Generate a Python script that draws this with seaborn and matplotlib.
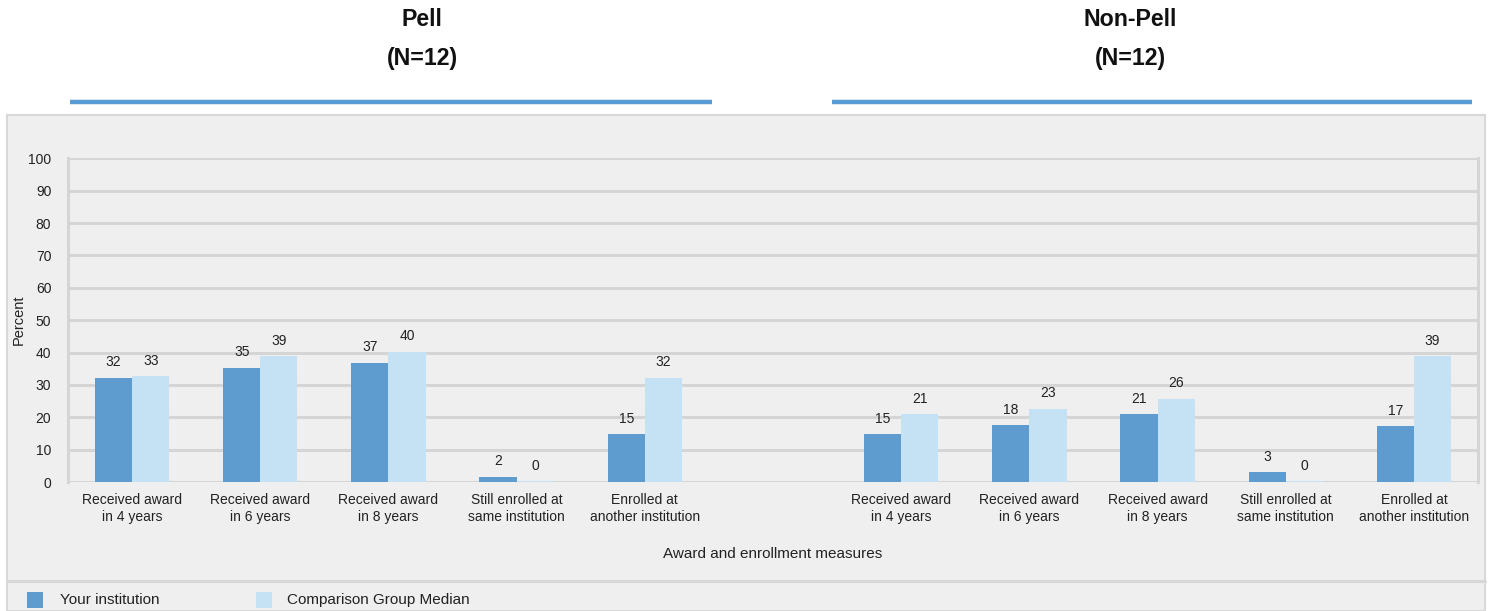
import numpy as np
import pandas as pd
import matplotlib
matplotlib.use("Agg")
import matplotlib.pyplot as plt
from matplotlib.patches import Rectangle
from matplotlib.lines import Line2D
import seaborn as sns

# ---- data ----
measures = ["Received award\nin 4 years", "Received award\nin 6 years", "Received award\nin 8 years",
            "Still enrolled at\nsame institution", "Enrolled at\nanother institution"]
groups = ["Pell", "Non-Pell"]
group_n = ["(N=12)", "(N=12)"]
series = ["Your institution", "Comparison Group Median"]
pell_yours = [32.2, 35.3, 36.9, 1.6, 14.8]
pell_comp = [32.7, 38.8, 40.3, 0.2, 32.2]
nonpell_yours = [14.7, 17.6, 21.0, 3.0, 17.3]
nonpell_comp = [21.0, 22.7, 25.7, 0.2, 38.8]
y_ticks = list(range(0, 101, 10))
x_title = "Award and enrollment measures"
y_title = "Percent"

DARK = "#5E9BCF"
LIGHT = "#C5E2F5"
BG = "#EFEFEF"
GRID = "#D5D5D5"
HEAD = "#5B9BD5"

rows = []
for g, yv, cv in [("Pell", pell_yours, pell_comp), ("Non-Pell", nonpell_yours, nonpell_comp)]:
    for m, a, b in zip(measures, yv, cv):
        key = f"{g}|{m}"
        rows.append({"cat": key, "series": series[0], "value": a})
        rows.append({"cat": key, "series": series[1], "value": b})
df = pd.DataFrame(rows)
order = [f"Pell|{m}" for m in measures] + ["gap"] + [f"Non-Pell|{m}" for m in measures]
tick_labels = measures + [""] + measures

sns.set_theme(style="white")
plt.rcParams["font.family"] = ["Liberation Sans", "DejaVu Sans"]

W, H = 1492, 611
fig = plt.figure(figsize=(W / 100, H / 100), dpi=100)
fig.patch.set_facecolor("white")

def fx(px):
    return px / W

def fy(py):
    return 1 - py / H

# outer grey panel
fig.patches.append(Rectangle((fx(7), fy(611)), fx(1485) - fx(7), fy(115) - fy(611),
                             transform=fig.transFigure, facecolor=BG, edgecolor="#D8D8D8",
                             linewidth=1.5, zorder=-5))
fig.lines.append(Line2D([fx(7), fx(1485)], [fy(581), fy(581)], transform=fig.transFigure,
                        color="#D8D8D8", linewidth=2.2, zorder=-4))

# header lines and titles
for (x0, x1), cx, name, n in zip([(70, 712), (832, 1472)], [422, 1130], groups, group_n):
    fig.lines.append(Line2D([fx(x0), fx(x1)], [fy(102), fy(102)], transform=fig.transFigure,
                            color=HEAD, linewidth=3.2, solid_capstyle="butt"))
    fig.text(fx(cx), fy(20), name, ha="center", va="center", fontsize=16.7, fontweight="bold",
             color="#111111")
    fig.text(fx(cx), fy(58), n, ha="center", va="center", fontsize=16.7, fontweight="bold",
             color="#111111")

ax_l, ax_r, ax_t, ax_b = 68, 1478, 158.3, 482
ax = fig.add_axes([fx(ax_l), fy(ax_b), fx(ax_r) - fx(ax_l), fy(ax_t) - fy(ax_b)])
ax.set_zorder(5)
ax.set_facecolor("none")

sns.barplot(data=df, x="cat", y="value", hue="series", order=order, hue_order=series,
            palette=[DARK, LIGHT], width=0.58, gap=0, saturation=1, errorbar=None,
            legend=False, linewidth=0, ax=ax, zorder=3)

for c in ax.containers:
    ax.bar_label(c, labels=[f"{b.get_height():.0f}" for b in c], padding=6, fontsize=10,
                 color="#222222")

ax.set_ylim(0, 100)
ax.set_xlim(-0.5, len(order) - 0.5)
ax.set_yticks(y_ticks)
ax.set_yticklabels([str(v) for v in y_ticks], fontsize=10, color="#222222")
ax.yaxis.grid(True, color=GRID, linewidth=2.2, zorder=0)
ax.set_axisbelow(True)
ax.tick_params(axis="y", length=0, pad=12)

ax.set_xticks(range(len(order)))
ax.set_xticklabels(tick_labels, fontsize=10, linespacing=1.3, color="#222222")
ax.set_xticks(np.arange(-0.5, len(order) + 0.5, 1.0), minor=True)
ax.tick_params(axis="x", which="major", length=0, pad=8)
ax.tick_params(axis="x", which="minor", length=8, width=2.2, color=GRID, direction="out")

for s in ["left", "right"]:
    ax.spines[s].set_visible(True)
    ax.spines[s].set_color(GRID)
    ax.spines[s].set_linewidth(2.2)
ax.spines["top"].set_visible(False)
ax.spines["bottom"].set_visible(False)

ax.set_xlabel(x_title, fontsize=11, labelpad=16, color="#222222")
ax.set_ylabel(y_title, fontsize=10.5, labelpad=2, color="#222222")

# legend
for (sx, tx), s, col in zip([(27, 60), (256, 287)], series, [DARK, LIGHT]):
    fig.patches.append(Rectangle((fx(sx), fy(608)), fx(16), 16 / H, transform=fig.transFigure,
                                 facecolor=col, edgecolor="none", zorder=-3))
    fig.text(fx(tx), fy(600), s, ha="left", va="center", fontsize=11, color="#222222")

fig.savefig("out.png", dpi=100, facecolor="white")
